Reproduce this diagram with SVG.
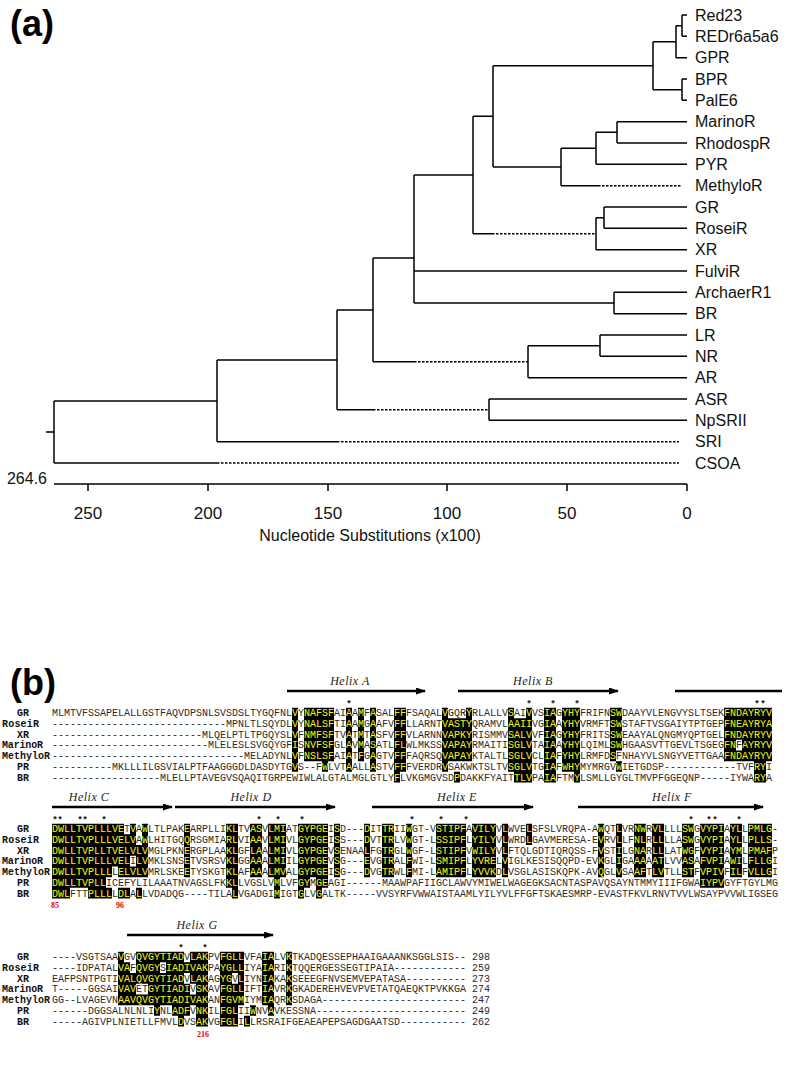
<svg xmlns="http://www.w3.org/2000/svg" xmlns:xlink="http://www.w3.org/1999/xlink" width="787" height="1075" viewBox="0 0 787 1075">
<style>
.pl{font-family:"Liberation Sans",Arial,sans-serif;font-weight:bold;font-size:36px;fill:#000}
.lbl{font-family:"Liberation Sans",Arial,sans-serif;font-size:16px;fill:#111}
.ax{font-family:"Liberation Sans",Arial,sans-serif;font-size:17px;fill:#111;text-anchor:middle}
.seq{font-family:"Liberation Mono","DejaVu Sans Mono",monospace;font-size:10px}
.nm{font-family:"Liberation Mono","DejaVu Sans Mono",monospace;font-size:10px;font-weight:bold;fill:#111}
.hx{font-family:"Liberation Serif","Times New Roman",serif;font-style:italic;font-size:12px;fill:#222;text-anchor:middle;letter-spacing:0.5px}
.st{font-family:"Liberation Sans",Arial,sans-serif;font-size:9px;font-weight:bold;fill:#111;text-anchor:middle}
.red{font-family:"Liberation Serif",serif;font-size:8px;font-weight:bold;fill:#e00000;text-anchor:middle}
.tr{stroke:#000;stroke-width:1.5;fill:none}
.ds{stroke:#000;stroke-width:1.5;fill:none;stroke-dasharray:2.5 1.5}
.arw{stroke:#000;stroke-width:2.4;fill:none}
</style>
<defs>
<marker id="ah" viewBox="0 0 10 8" refX="9" refY="4" markerWidth="10" markerHeight="7" markerUnits="userSpaceOnUse" orient="auto" preserveAspectRatio="none"><path d="M0,0 L10,4 L0,8 z" fill="#000"/></marker>
<path id="hp1" transform="matrix(1 0 0 0.823 0 127.85)" fill-rule="evenodd" clip-rule="evenodd" d="M292 704.5h6v78h-6z M304 704.5h30v65h-30z M322 769.5h6v13h-6z M346 704.5h6v78h-6z M358 704.5h6v65h-6z M370 704.5h6v78h-6z M394 704.5h12v78h-12z M394 782.5h6v13h-6z M442 704.5h6v78h-6z M448 717.5h18v52h-18z M454 782.5h6v13h-6z M466 704.5h6v65h-6z M508 704.5h6v78h-6z M514 717.5h18v78h-18z M526 704.5h6v13h-6z M544 704.5h12v91h-12z M562 704.5h18v78h-18z M574 782.5h6v13h-6z M610 704.5h6v65h-6z M616 704.5h6v52h-6z M616 769.5h6v13h-6z M724 704.5h48v65h-48z M736 743.5h6v13h-6z M754 769.5h12v26h-12z"/>
<path id="hp2" transform="matrix(1 0 0 0.823 0 136.03)" fill-rule="evenodd" clip-rule="evenodd" d="M52 848.5h96v52h-96z M52 835.5h72v13h-72z M130 835.5h6v13h-6z M142 835.5h6v13h-6z M52 900.5h54v13h-54z M52 913.5h18v13h-18z M88 913.5h24v13h-24z M118 913.5h12v13h-12z M136 913.5h6v13h-6z M136 848.5h6v13h-6z M130 874.5h6v13h-6z M112 887.5h6v13h-6z M184 835.5h6v65h-6z M226 835.5h12v78h-12z M232 913.5h6v13h-6z M250 835.5h12v65h-12z M268 835.5h18v65h-18z M274 900.5h6v26h-6z M298 835.5h30v65h-30z M298 900.5h12v13h-12z M316 900.5h12v13h-12z M298 913.5h6v13h-6z M316 913.5h6v13h-6z M334 835.5h6v65h-6z M364 835.5h6v65h-6z M382 835.5h12v65h-12z M406 835.5h6v65h-6z M436 835.5h30v65h-30z M472 835.5h24v65h-24z M502 835.5h6v65h-6z M526 835.5h6v26h-6z M598 835.5h6v65h-6z M616 835.5h6v65h-6z M634 835.5h12v65h-12z M652 835.5h12v65h-12z M682 835.5h12v65h-12z M700 835.5h24v78h-24z M730 835.5h12v65h-12z M748 835.5h24v65h-24z"/>
<path id="hp3" transform="matrix(1 0 0 0.823 0 156.22)" fill-rule="evenodd" clip-rule="evenodd" d="M118 966.5h6v65h-6z M124 979.5h6v52h-6z M130 992.5h6v39h-6z M136 966.5h12v39h-12z M136 1018.5h12v13h-12z M148 966.5h36v65h-36z M160 979.5h6v13h-6z M154 1031.5h6v13h-6z M172 1031.5h18v13h-18z M178 1044.5h6v13h-6z M184 979.5h6v13h-6z M184 1005.5h6v26h-6z M190 966.5h6v65h-6z M190 1005.5h6v13h-6z M196 966.5h12v91h-12z M220 966.5h24v65h-24z M232 992.5h6v13h-6z M220 1031.5h18v26h-18z M250 1031.5h6v13h-6z M262 966.5h12v65h-12z M268 1031.5h6v13h-6z M286 966.5h6v65h-6z M244 1044.5h6v13h-6z"/>
<clipPath id="c1"><use xlink:href="#hp1"/></clipPath>
<clipPath id="c2"><use xlink:href="#hp2"/></clipPath>
<clipPath id="c3"><use xlink:href="#hp3"/></clipPath>
<g id="t1" class="seq">
<text x="52" y="716.3" textLength="720" lengthAdjust="spacingAndGlyphs">MLMTVFSSAPELALLGSTFAQVDPSNLSVSDSLTYGQFNLVYNAFSFAIAAMFASALFFFSAQALVGQRYRLALLVSAIVVSIAGYHYFRIFNSWDAAYVLENGVYSLTSEKFNDAYRYV</text>
<text x="52" y="727" textLength="720" lengthAdjust="spacingAndGlyphs">-----------------------------MPNLTLSQYDLVYNALSFTIAAMGAAFVFFLLARNTVASTYQRAMVLAAIIVGIAAYHYVRMFTSWSTAFTVSGAIYTPTGEPFNEAYRYA</text>
<text x="52" y="737.7" textLength="720" lengthAdjust="spacingAndGlyphs">-------------------------MLQELPTLTPGQYSLVFNMFSFTVATMTASFVFFVLARNNVAPKYRISMMVSALVVFIAGYHYFRITSSWEAAYALQNGMYQPTGELFNDAYRYV</text>
<text x="52" y="748.4" textLength="720" lengthAdjust="spacingAndGlyphs">--------------------------MLELESLSVGQYGFISNVFSFGLAVMASATLFLWLMKSSVAPAYRMAITISGLVTAIAAYHYLQIMLSWHGAASVTTGEVLTSGEGFNFAYRYV</text>
<text x="52" y="759.1" textLength="720" lengthAdjust="spacingAndGlyphs">--------------------------------MELADYNLVFNSLSFAIATFGAGTVFFFAQRSQVAPAYKTALTLSGLVCLIAFYHYLRMFDSFNHAYVLSNGYVETTGAAFNDAYRYV</text>
<text x="52" y="769.8" textLength="720" lengthAdjust="spacingAndGlyphs">----------MKLLLILGSVIALPTFAAGGGDLDASDYTGVS--FWLVTAALLASTVFFFVERDRVSAKWKTSLTVSGLVTGIAFWHYMYMRGVWIETGDSP------------TVFRYI</text>
<text x="52" y="780.5" textLength="720" lengthAdjust="spacingAndGlyphs">------------------MLELLPTAVEGVSQAQITGRPEWIWLALGTALMGLGTLYFLVKGMGVSDPDAKKFYAITTLVPAIAFTMYLSMLLGYGLTMVPFGGEQNP-----IYWARYA</text>
</g>
<g id="t2" class="seq">
<text x="52" y="832.3" textLength="726" lengthAdjust="spacingAndGlyphs">DWLLTVPLLLVETVAWLTLPAKEARPLLIKLTVASVLMIATGYPGEISD---DITTRIIWGT-VSTIPFAVILYVLWVELSFSLVRQPA-AWQTLVRNWRVLLLLSWGVYPIAYLLPMLG-</text>
<text x="52" y="843" textLength="726" lengthAdjust="spacingAndGlyphs">DWLLTVPLLLVELVAWLHITGQQRSGMIARLVIAAVLMIVLGYPGEISS---DVTTRLVWGT-LSSIPFLYILYVLWRDLGAVMERESA-EVRVLLFNLRLLLLASWGVYPIAYLLPLLS-</text>
<text x="52" y="853.7" textLength="726" lengthAdjust="spacingAndGlyphs">DWLLTVPLLTVELVLVMGLPKNERGPLAAKLGFLAALMIVLGYPGEVSENAALFGTRGLWGF-LSTIPFVWILYVLFTQLGDTIQRQSS-FVSTILGNARLLLATWGFVYPIAYMLPMAFP</text>
<text x="52" y="864.4" textLength="726" lengthAdjust="spacingAndGlyphs">DWLLTVPLLLVELILVMKLSNSETVSRSVKLGGAAALMIILGYPGEVSG---EVGTRALFWI-LSMIPFLYVRELVIGLKESISQQPD-EVKGLIGAAAAATLVVASAFVPIAWILFLLGI</text>
<text x="52" y="875.1" textLength="726" lengthAdjust="spacingAndGlyphs">DWLLTVPLLLLELVLVMRLSKEETYSKGTKLAFAAALMVALGYPGEISG---DVGTRWLFMI-LAMIPFLYVVKDLVSGLASISKQPK-AVQGLVSAAFTLVTLLSTFVPIVFILFVLLGI</text>
<text x="52" y="885.8" textLength="726" lengthAdjust="spacingAndGlyphs">DWLLTVPLLICEFYLILAAATNVAGSLFKKLLVGSLVMLVFGYMGEAGI------MAAWPAFIIGCLAWVYMIWELWAGEGKSACNTASPAVQSAYNTMMYIIIFGWAIYPVGYFTGYLMG</text>
<text x="52" y="896.5" textLength="726" lengthAdjust="spacingAndGlyphs">DWLFTTPLLLLDLALLVDADQG----TILALVGADGIMIGTGLVGALTK-----VVSYRFVWWAISTAAMLYILYVLFFGFTSKAESMRP-EVASTFKVLRNVTVVLWSAYPVVWLIGSEG</text>
</g>
<g id="t3" class="seq">
<text x="52" y="960.3" textLength="438" lengthAdjust="spacingAndGlyphs">----VSGTSAAVGVQVGYTIADVLAKPVFGLLVFAIALVKTKADQESSEPHAAIGAAANKSGGLSIS-- 298</text>
<text x="52" y="971" textLength="438" lengthAdjust="spacingAndGlyphs">----IDPATALVAFQVGYSIADIVAKPAYGLLIYAIARIKTQQERGESSEGTIPAIA------------ 259</text>
<text x="52" y="981.7" textLength="438" lengthAdjust="spacingAndGlyphs">EAFPSNTPGTIVALQVGYTIADVLAKAGYGVLIYNIAKAKSEEEGFNVSEMVEPATASA---------- 273</text>
<text x="52" y="992.4" textLength="438" lengthAdjust="spacingAndGlyphs">T-----GGSAIVAVETGYTIADIVSKAVFGLLIFTIAVRKGKADEREHVEVPVETATQAEQKTPVKKGA 274</text>
<text x="52" y="1003.1" textLength="438" lengthAdjust="spacingAndGlyphs">GG--LVAGEVNAAVQVGYTIADIVAKANFGVMIYMIAQRKSDAGA------------------------ 247</text>
<text x="52" y="1013.8" textLength="438" lengthAdjust="spacingAndGlyphs">------DGGSALNLNLIYNLADFVNKILFGLIIWNVAVKESSNA------------------------- 249</text>
<text x="52" y="1024.5" textLength="438" lengthAdjust="spacingAndGlyphs">-----AGIVPLNIETLLFMVLDVSAKVGFGLILLRSRAIFGEAEAPEPSAGDGAATSD----------- 262</text>
</g>
</defs>
<rect width="787" height="1075" fill="#fff"/>

<text class="pl" x="10" y="36">(a)</text>
<text class="pl" x="10" y="695">(b)</text>

<g id="connectors">
<path class="tr" d="M682 15V36.3 M682 15H687 M682 36.3H687 M676 25.7V57.7 M676 25.7H682 M676 57.7H687 M682 79V100.3 M682 79H687 M682 100.3H687 M653 41.7V89.7 M653 41.7H676 M653 89.7H682 M493 65.7V167 M493 65.7H653 M493 167H561 M561 148.3V185.7 M561 148.3H596 M561 185.7H598 M596 132.3V164.3 M596 132.3H617 M596 164.3H687 M617 121.7V143 M617 121.7H687 M617 143H687 M473 116.3V233.7 M473 116.3H493 M473 233.7H492 M596 217.7V249.7 M596 217.7H604 M596 249.7H687 M604 207V228.3 M604 207H687 M604 228.3H687 M414 175V303 M414 175H473 M414 271H687 M414 303H614 M614 292.3V313.7 M614 292.3H687 M614 313.7H687 M373 258V361.7 M373 258H414 M373 361.7H414 M528 345.7V377.7 M528 345.7H600 M528 377.7H687 M600 335V356.3 M600 335H687 M600 356.3H687 M337 310V409.7 M337 310H373 M337 409.7H373 M489 399V420.3 M489 399H687 M489 420.3H687 M217 360V441.7 M217 360H337 M217 441.7H337 M54 401V463 M54 401H217 M54 463H217 M46 432H54"/>
<path class="ds" d="M598 185.7H681 M492 233.7H596 M414 361.7H528 M373 409.7H489 M337 441.7H679 M217 463H679"/>
</g>

<g id="tree-leaves" class="lbl">
<g id="leaf-Red23"><text x="695" y="20.5">Red23</text></g>
<g id="leaf-REDr6a5a6"><text x="695" y="41.8">REDr6a5a6</text></g>
<g id="leaf-GPR"><text x="695" y="63.2">GPR</text></g>
<g id="leaf-BPR"><text x="695" y="84.5">BPR</text></g>
<g id="leaf-PalE6"><text x="695" y="105.8">PalE6</text></g>
<g id="leaf-MarinoR"><text x="695" y="127.2">MarinoR</text></g>
<g id="leaf-RhodospR"><text x="695" y="148.5">RhodospR</text></g>
<g id="leaf-PYR"><text x="695" y="169.8">PYR</text></g>
<g id="leaf-MethyloR"><text x="695" y="191.2">MethyloR</text></g>
<g id="leaf-GR"><text x="695" y="212.5">GR</text></g>
<g id="leaf-RoseiR"><text x="695" y="233.8">RoseiR</text></g>
<g id="leaf-XR"><text x="695" y="255.2">XR</text></g>
<g id="leaf-FulviR"><text x="695" y="276.5">FulviR</text></g>
<g id="leaf-ArchaerR1"><text x="695" y="297.8">ArchaerR1</text></g>
<g id="leaf-BR"><text x="695" y="319.2">BR</text></g>
<g id="leaf-LR"><text x="695" y="340.5">LR</text></g>
<g id="leaf-NR"><text x="695" y="361.8">NR</text></g>
<g id="leaf-AR"><text x="695" y="383.2">AR</text></g>
<g id="leaf-ASR"><text x="695" y="404.5">ASR</text></g>
<g id="leaf-NpSRII"><text x="695" y="425.8">NpSRII</text></g>
<g id="leaf-SRI"><text x="695" y="447.2">SRI</text></g>
<g id="leaf-CSOA"><text x="695" y="468.5">CSOA</text></g>
</g>

<g id="axis">
<path class="tr" d="M54 484H687 M88 484V491 M208 484V491 M328 484V491 M447 484V491 M567 484V491 M687 484V491"/>
<text class="lbl" x="27" y="484" text-anchor="middle">264.6</text>
<text class="ax" x="88" y="519">250</text>
<text class="ax" x="208" y="519">200</text>
<text class="ax" x="328" y="519">150</text>
<text class="ax" x="447" y="519">100</text>
<text class="ax" x="567" y="519">50</text>
<text class="ax" x="687" y="519">0</text>
<text class="lbl" x="370" y="541" text-anchor="middle">Nucleotide Substitutions (x100)</text>
</g>

<g id="helices">
<path class="arw" marker-end="url(#ah)" d="M287 691H425"/>
<path class="arw" marker-end="url(#ah)" d="M458 691H618"/>
<path class="arw" d="M675 691H782"/>
<text class="hx" x="350" y="685">Helix A</text>
<text class="hx" x="533" y="685">Helix B</text>
<path class="arw" marker-end="url(#ah)" d="M52 807H172"/>
<path class="arw" marker-end="url(#ah)" d="M175 807H335"/>
<path class="arw" marker-end="url(#ah)" d="M372 807H533"/>
<path class="arw" marker-end="url(#ah)" d="M578 807H763"/>
<text class="hx" x="89" y="801">Helix C</text>
<text class="hx" x="251" y="801">Helix D</text>
<text class="hx" x="457" y="801">Helix E</text>
<text class="hx" x="672" y="801">Helix F</text>
<path class="arw" marker-end="url(#ah)" d="M127 935H273"/>
<text class="hx" x="197" y="929">Helix G</text>
</g>

<g id="stars" class="st">
<text x="349" y="705.7">*</text><text x="529" y="705.7">*</text><text x="553" y="705.7">*</text><text x="577" y="705.7">*</text><text x="757" y="705.7">*</text><text x="763" y="705.7">*</text>
<text x="55" y="821.7">*</text><text x="60" y="821.7">*</text><text x="80" y="821.7">*</text><text x="85" y="821.7">*</text><text x="104" y="821.7">*</text><text x="259" y="821.7">*</text><text x="278" y="821.7">*</text><text x="302" y="821.7">*</text><text x="412" y="821.7">*</text><text x="441" y="821.7">*</text><text x="466" y="821.7">*</text><text x="691" y="821.7">*</text><text x="709" y="821.7">*</text><text x="715" y="821.7">*</text><text x="739" y="821.7">*</text>
<text x="181" y="949.7">*</text><text x="205" y="949.7">*</text>
</g>

<g id="alignment">
<use xlink:href="#hp1" fill="#000"/>
<use xlink:href="#hp2" fill="#000"/>
<use xlink:href="#hp3" fill="#000"/>
<use xlink:href="#t1" fill="#2a2a2a"/>
<use xlink:href="#t2" fill="#2a2a2a"/>
<use xlink:href="#t3" fill="#2a2a2a"/>
<g clip-path="url(#c1)"><use xlink:href="#t1" fill="#f2ee00"/></g>
<g clip-path="url(#c2)"><use xlink:href="#t2" fill="#f2ee00"/></g>
<g clip-path="url(#c3)"><use xlink:href="#t3" fill="#f2ee00"/></g>
</g>

<g id="names" class="nm">
<text x="17" y="716.3" textLength="12">GR</text><text x="2" y="727" textLength="37">RoseiR</text><text x="17" y="737.7" textLength="12">XR</text><text x="2" y="748.4" textLength="41">MarinoR</text><text x="2" y="759.1" textLength="48">MethyloR</text><text x="17" y="769.8" textLength="12">PR</text><text x="17" y="780.5" textLength="12">BR</text>
<text x="17" y="832.3" textLength="12">GR</text><text x="2" y="843" textLength="37">RoseiR</text><text x="17" y="853.7" textLength="12">XR</text><text x="2" y="864.4" textLength="41">MarinoR</text><text x="2" y="875.1" textLength="48">MethyloR</text><text x="17" y="885.8" textLength="12">PR</text><text x="17" y="896.5" textLength="12">BR</text>
<text x="17" y="960.3" textLength="12">GR</text><text x="2" y="971" textLength="37">RoseiR</text><text x="17" y="981.7" textLength="12">XR</text><text x="2" y="992.4" textLength="41">MarinoR</text><text x="2" y="1003.1" textLength="48">MethyloR</text><text x="17" y="1013.8" textLength="12">PR</text><text x="17" y="1024.5" textLength="12">BR</text>
</g>

<g id="residue-numbers" class="red">
<text x="55" y="908">85</text>
<text x="120" y="908">96</text>
<text x="203" y="1037">216</text>
</g>
</svg>
